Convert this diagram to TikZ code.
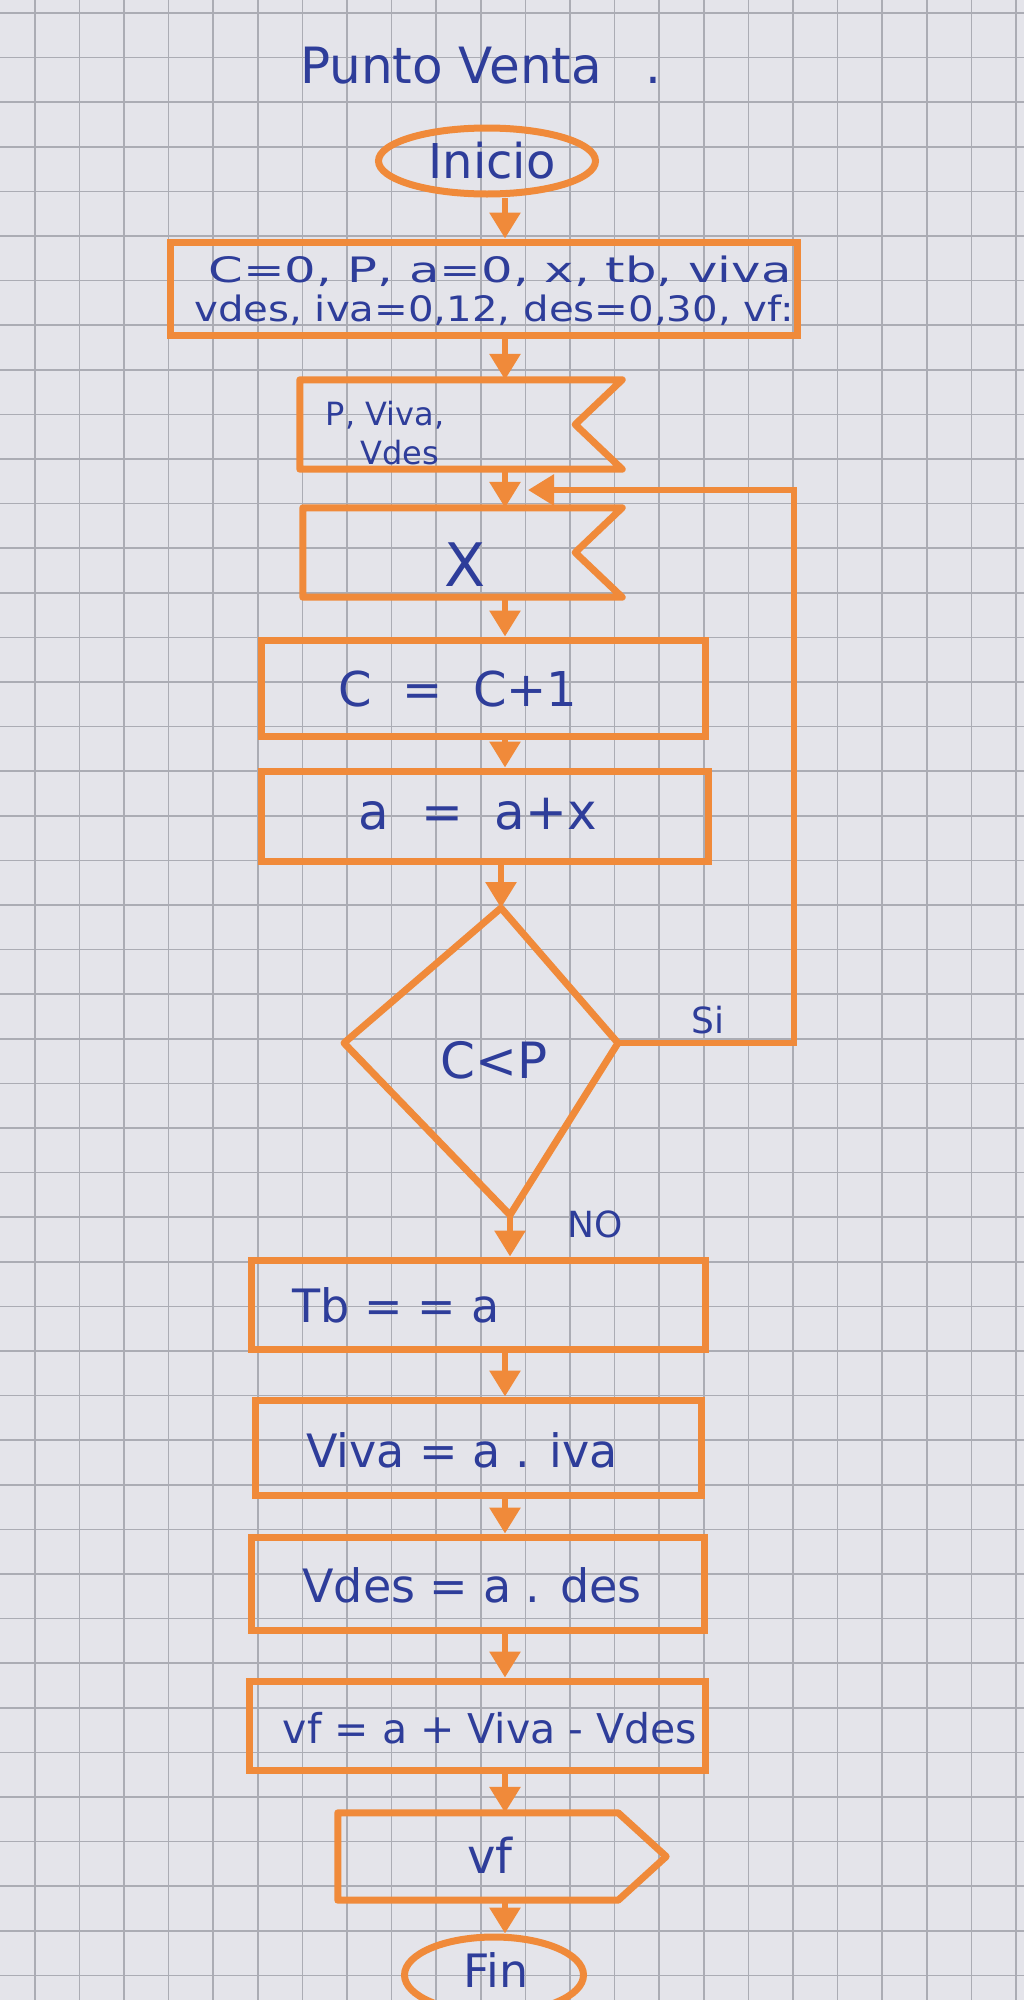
\documentclass[tikz,border=0pt]{standalone}
\usepackage{fontspec}
\setmainfont{DejaVu Sans}
\usetikzlibrary{arrows.meta,shapes.geometric,calc}
\definecolor{paper}{HTML}{E4E4EA}
\definecolor{gridc}{HTML}{ABACB4}
\definecolor{mk}{HTML}{F08A3A}
\definecolor{ink}{HTML}{2E3D9A}
\tikzset{
  mkline/.style={draw=mk, line width=7pt, line join=round, line cap=round},
  box/.style={rectangle, draw=mk, line width=7pt, inner sep=0pt},
  oval/.style={ellipse, draw=mk, line width=7pt, inner sep=0pt},
  ghost/.style={rectangle, inner sep=0pt},
  txt/.style={text=ink, inner sep=0pt, font=\fontsize{44}{50}\selectfont},
  arr/.style={draw=mk, line width=6pt, -{Triangle[width=30pt,length=26pt]}},
  lbl/.style={text=ink, inner sep=0pt, font=\fontsize{36}{40}\selectfont}
}
\begin{document}
\begin{tikzpicture}[x=1pt,y=-1pt]
\useasboundingbox (0,0) rectangle (1024,2000);
\clip (0,0) rectangle (1024,2000);
\fill[paper] (0,0) rectangle (1024,2000);
% graph paper
\foreach \i in {0,...,22} \draw[gridc, line width=1.5pt] (34.8+\i*44.6,0) -- (34.8+\i*44.6,2000);
\foreach \j in {0,...,44} \draw[gridc, line width=1.5pt] (0,13+\j*44.6) -- (1024,13+\j*44.6);

% title
\node[txt, anchor=west, font=\fontsize{50}{54}\selectfont] (title) at (300,66) {Punto Venta\hspace{44pt}.};

% arrow axis
\coordinate (ax) at (505,0);

% Inicio
\node[oval, minimum width=217pt, minimum height=66pt] (ini) at (487,161) {};
\node[txt, font=\fontsize{48}{52}\selectfont] (tini) at (492,161) {Inicio};

% initialisation box
\node[box, minimum width=627pt, minimum height=93pt] (init) at (483.5,288.5) {};
\node[txt, font=\fontsize{35}{40}\selectfont] (tinit1) at (500,271) {\scalebox{1.42}[1]{C=0, P, a=0, x, tb, viva}};
\node[txt, font=\fontsize{35}{40}\selectfont] (tinit2) at (494,310) {\scalebox{1.15}[1]{vdes, iva=0,12, des=0,30, vf:}};

% input 1
\node[ghost, minimum width=322pt, minimum height=89pt] (in1) at (461,424.5) {};
\draw[mkline] (in1.north west) -- (in1.north east) -- ($(in1.east)+(-47,0)$) -- (in1.south east) -- (in1.south west) -- cycle;
\node[txt, align=center, font=\fontsize{32}{39}\selectfont] (tin1) at (385,433) {P, Viva,\\ \hspace*{30pt}Vdes};

% input 2
\node[ghost, minimum width=319pt, minimum height=89pt] (in2) at (462.5,552.5) {};
\draw[mkline] (in2.north west) -- (in2.north east) -- ($(in2.east)+(-47,0)$) -- (in2.south east) -- (in2.south west) -- cycle;
\node[txt, font=\fontsize{60}{64}\selectfont] (tin2) at (465,565) {X};

% C = C+1
\node[box, minimum width=444pt, minimum height=96pt] (cbox) at (483,688) {};
\node[txt, font=\fontsize{48}{52}\selectfont] (tc) at (458,689) {C~~=~~C+1};

% a = a+x
\node[box, minimum width=447pt, minimum height=90pt] (abox) at (484.5,816) {};
\node[txt, font=\fontsize{50}{54}\selectfont] (ta) at (478,814) {a~~=~~a+x};

% decision
\coordinate (dtop) at (501,908);
\coordinate (dright) at (618,1043);
\coordinate (dbot) at (510,1215);
\coordinate (dleft) at (344,1043);
\draw[mkline] (dtop) -- (dright) -- (dbot) -- (dleft) -- cycle;
\node[txt, font=\fontsize{50}{54}\selectfont] (tdec) at (494,1060) {C<P};
\node[lbl] (si) at (708,1020) {Si};
\node[lbl] (no) at (595,1224) {NO};

% Tb
\node[box, minimum width=454pt, minimum height=89pt] (tbbox) at (478,1304.5) {};
\node[txt, font=\fontsize{46}{50}\selectfont] (ttb) at (396,1305) {Tb = = a};

% Viva
\node[box, minimum width=446pt, minimum height=95pt] (vivabox) at (478,1447.5) {};
\node[txt, font=\fontsize{46}{50}\selectfont] (tviva) at (462,1450) {Viva = a . iva};

% Vdes
\node[box, minimum width=453pt, minimum height=93pt] (vdesbox) at (477.5,1583.5) {};
\node[txt, font=\fontsize{46}{50}\selectfont] (tvdes) at (472,1585) {Vdes = a . des};

% vf
\node[box, minimum width=456pt, minimum height=89pt] (vfbox) at (477,1725.5) {};
\node[txt, font=\fontsize{41}{45}\selectfont] (tvf) at (490,1728) {vf = a + Viva - Vdes};

% output
\node[ghost, minimum width=328pt, minimum height=87pt] (out) at (502,1856.5) {};
\draw[mkline] (out.north west) -- ($(out.north east)+(-48,0)$) -- (out.east) -- ($(out.south east)+(-48,0)$) -- (out.south west) -- cycle;
\node[txt, font=\fontsize{48}{52}\selectfont] (tout) at (490,1855) {vf};

% Fin
\node[oval, minimum width=179pt, minimum height=76pt] (fin) at (494,1975) {};
\node[txt, font=\fontsize{46}{50}\selectfont] (tfin) at (496,1970) {Fin};

% connectors
\draw[arr] (ini.south -| ax) -- (init.north -| ax);
\draw[arr] (init.south -| ax) -- (in1.north -| ax);
\draw[arr] (in1.south -| ax) -- (in2.north -| ax);
\draw[arr] (in2.south -| ax) -- (cbox.north -| ax);
\draw[arr] (cbox.south -| ax) -- (abox.north -| ax);
\draw[arr] (abox.south -| dtop) -- (dtop);
\draw[arr] (dbot) -- (tbbox.north -| dbot);
\draw[arr] (tbbox.south -| ax) -- (vivabox.north -| ax);
\draw[arr] (vivabox.south -| ax) -- (vdesbox.north -| ax);
\draw[arr] (vdesbox.south -| ax) -- (vfbox.north -| ax);
\draw[arr] (vfbox.south -| ax) -- (out.north -| ax);
\draw[arr] (out.south -| ax) -- (fin.north -| ax);
% loop back
\coordinate (loopx) at (794,0);
\coordinate (join) at (528,490);
\draw[arr] (dright) -- (dright -| loopx) |- (join);
\end{tikzpicture}
\end{document}
